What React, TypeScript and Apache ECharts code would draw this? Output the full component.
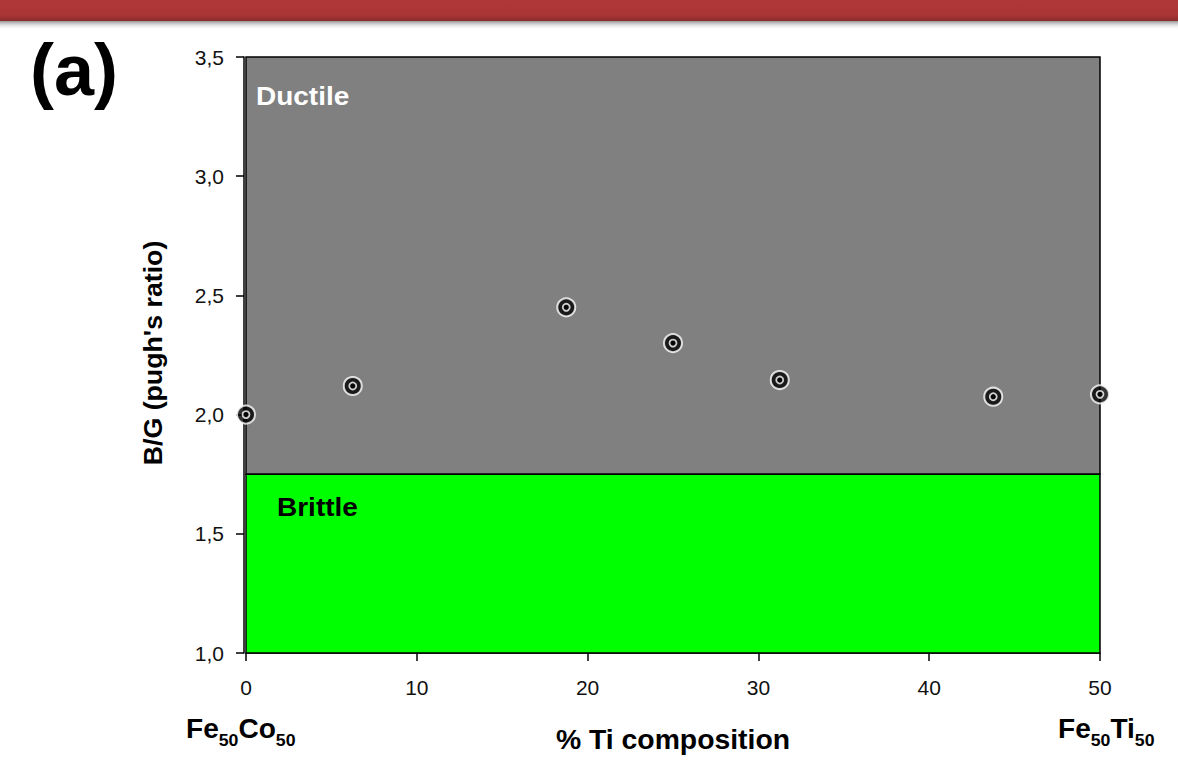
import React, { useEffect, useRef } from "react";
import * as echarts from "echarts";

// % Ti composition and Pugh's ratio (B/G)
const tiPercent = [0, 6.25, 18.75, 25, 31.25, 43.75, 50];
const pughRatio = [2.0, 2.12, 2.45, 2.3, 2.145, 2.075, 2.085];

// Ductile / brittle threshold and axis ranges
const threshold = 1.75;
const yTicks = { min: 1.0, max: 3.5, step: 0.5 };
const xTicks = { min: 0, max: 50, step: 10 };

const FONT = "'Liberation Sans', Arial, sans-serif";

function formula(parts: [string, string][]) {
  return parts.map(([el, n]) => `{m|${el}}{s|${n}}`).join("");
}

const formulaRich = {
  m: { fontFamily: FONT, fontWeight: "bold", fontSize: 27, color: "#000" },
  s: { fontFamily: FONT, fontWeight: "bold", fontSize: 17, color: "#000", padding: [22, 0, 0, 0] },
};

export default function App() {
  const ref = useRef<HTMLDivElement>(null);

  useEffect(() => {
    if (!ref.current) return;
    const chart = echarts.init(ref.current, undefined, { renderer: "svg" });
    const points = tiPercent.map((x, i) => [x, pughRatio[i]]);

    chart.setOption({
      animation: false,
      backgroundColor: "#ffffff",
      textStyle: { fontFamily: FONT },
      grid: { left: 246, right: 78, top: 57, bottom: 111 },
      xAxis: {
        type: "value",
        min: xTicks.min,
        max: xTicks.max,
        interval: xTicks.step,
        splitLine: { show: false },
        axisLine: { show: true, onZero: false, lineStyle: { color: "#000", width: 1.5 } },
        axisTick: { show: true, length: 8, lineStyle: { color: "#000", width: 1.5 } },
        axisLabel: { color: "#111", fontSize: 21, margin: 24, fontFamily: FONT },
      },
      yAxis: {
        type: "value",
        min: yTicks.min,
        max: yTicks.max,
        interval: yTicks.step,
        offset: 2,
        splitLine: { show: false },
        axisLine: { show: true, onZero: false, lineStyle: { color: "#000", width: 1.5 } },
        axisTick: { show: true, length: 8, lineStyle: { color: "#000", width: 1.5 } },
        axisLabel: {
          color: "#111",
          fontSize: 21,
          margin: 20,
          fontFamily: FONT,
          formatter: (v: number) => v.toFixed(1).replace(".", ","),
        },
      },
      series: [
        {
          type: "scatter",
          data: points,
          symbol: "circle",
          symbolSize: 18,
          clip: false,
          z: 5,
          itemStyle: { color: "#000", borderColor: "#fff", borderWidth: 2 },
          markArea: {
            silent: true,
            z: 1,
            label: { show: false },
            data: [
              [
                {
                  yAxis: threshold,
                  xAxis: xTicks.min,
                  itemStyle: { color: "#808080", borderColor: "#000", borderWidth: 1.5 },
                },
                { yAxis: yTicks.max, xAxis: xTicks.max },
              ],
              [
                {
                  yAxis: yTicks.min,
                  xAxis: xTicks.min,
                  itemStyle: { color: "#00ff00", borderColor: "#000", borderWidth: 1.5 },
                },
                { yAxis: threshold, xAxis: xTicks.max },
              ],
            ],
          },
        },
        {
          type: "scatter",
          data: points,
          symbol: "circle",
          symbolSize: 7,
          clip: false,
          z: 6,
          itemStyle: { color: "#000", borderColor: "#fff", borderWidth: 1.8 },
        },
      ],
      graphic: [
        {
          type: "rect",
          left: 0,
          top: 0,
          z: 10,
          shape: { width: 1178, height: 21 },
          style: {
            fill: new echarts.graphic.LinearGradient(0, 0, 0, 1, [
              { offset: 0, color: "#b03737" },
              { offset: 0.7, color: "#aa3535" },
              { offset: 1, color: "#892b2b" },
            ]),
          },
        },
        {
          type: "rect",
          left: 0,
          top: 21,
          z: 10,
          shape: { width: 1178, height: 9 },
          style: {
            fill: new echarts.graphic.LinearGradient(0, 0, 0, 1, [
              { offset: 0, color: "rgba(80,80,80,0.6)" },
              { offset: 1, color: "rgba(255,255,255,0)" },
            ]),
          },
        },
        {
          type: "text",
          x: 30,
          y: 70,
          z: 10,
          style: {
            text: "(a)",
            font: `bold 72px ${FONT}`,
            fill: "#000",
            align: "left",
            verticalAlign: "middle",
          },
        },
        {
          type: "text",
          x: 256,
          y: 97,
          scaleX: 1.12,
          z: 10,
          style: {
            text: "Ductile",
            font: `bold 25px ${FONT}`,
            fill: "#fff",
            align: "left",
            verticalAlign: "middle",
          },
        },
        {
          type: "text",
          x: 277,
          y: 508,
          scaleX: 1.12,
          z: 10,
          style: {
            text: "Brittle",
            font: `bold 25px ${FONT}`,
            fill: "#000",
            align: "left",
            verticalAlign: "middle",
          },
        },
        {
          type: "text",
          x: 153,
          y: 353,
          rotation: Math.PI / 2,
          scaleX: 1.07,
          z: 10,
          style: {
            text: "B/G (pugh's ratio)",
            font: `bold 25px ${FONT}`,
            fill: "#000",
            align: "center",
            verticalAlign: "middle",
          },
        },
        {
          type: "text",
          x: 673,
          y: 740,
          scaleX: 1.05,
          z: 10,
          style: {
            text: "% Ti composition",
            font: `bold 27px ${FONT}`,
            fill: "#000",
            align: "center",
            verticalAlign: "middle",
          },
        },
        {
          type: "text",
          x: 186,
          y: 729,
          scaleX: 1.04,
          z: 10,
          style: {
            text: formula([["Fe", "50"], ["Co", "50"]]),
            align: "left",
            verticalAlign: "middle",
            rich: formulaRich,
          },
        },
        {
          type: "text",
          x: 1058,
          y: 729,
          scaleX: 1.04,
          z: 10,
          style: {
            text: formula([["Fe", "50"], ["Ti", "50"]]),
            align: "left",
            verticalAlign: "middle",
            rich: formulaRich,
          },
        },
      ],
    });

    return () => chart.dispose();
  }, []);

  return (
    <div
      ref={ref}
      style={{ position: "absolute", left: 0, top: 0, width: 1178, height: 764 }}
    />
  );
}
